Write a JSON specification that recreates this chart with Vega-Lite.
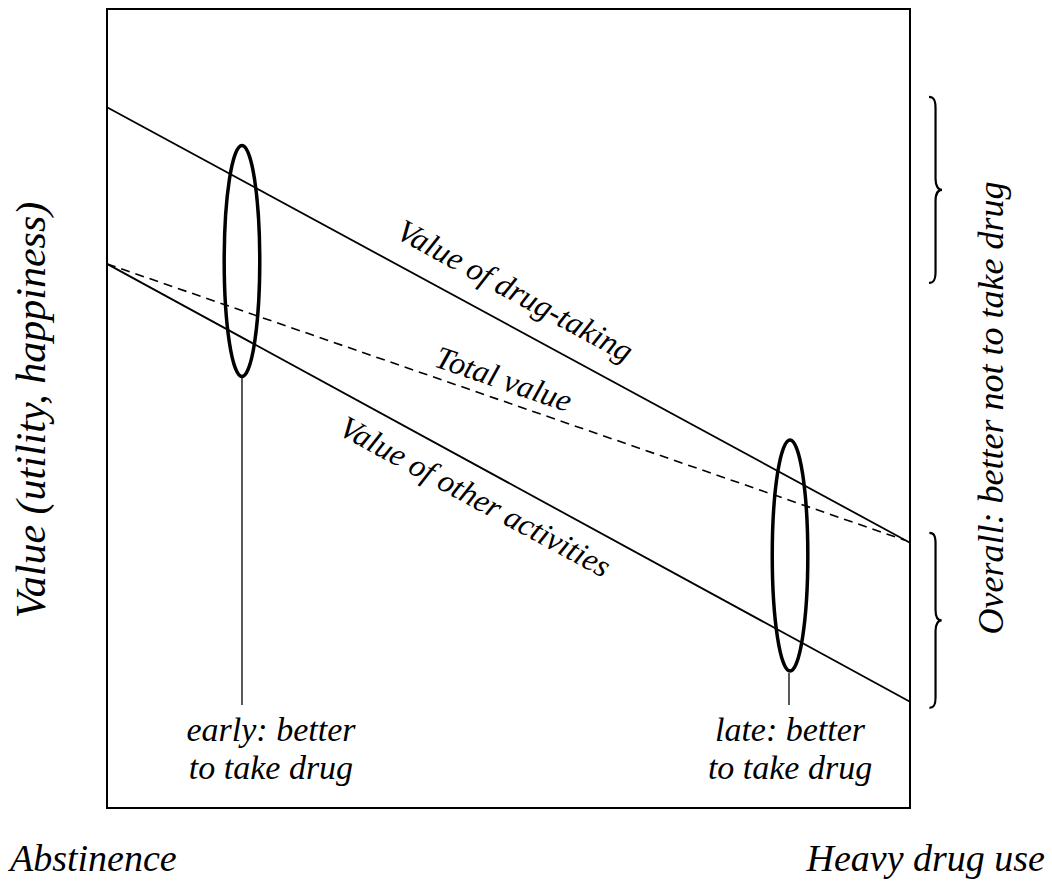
{
  "$schema": "https://vega.github.io/schema/vega-lite/v6.json",
  "width": 803,
  "height": 799,
  "autosize": "none",
  "padding": {"left": 107, "top": 9, "right": 142, "bottom": 84},
  "config": {"view": {"stroke": null}},
  "layer": [
    {
      "data": {"values": [{"x": 0, "y": 0, "x2": 100, "y2": 100}]},
      "mark": {"type": "rect", "filled": false, "stroke": "black", "strokeWidth": 2, "opacity": 1},
      "encoding": {
        "x": {"field": "x", "type": "quantitative", "scale": {"domain": [0, 100], "nice": false, "zero": false}, "axis": null},
        "y": {"field": "y", "type": "quantitative", "scale": {"domain": [0, 100], "nice": false, "zero": false}, "axis": null},
        "x2": {"field": "x2"},
        "y2": {"field": "y2"}
      }
    },
    {
      "data": {"values": [
        {"series": "Value of drug-taking", "x": 0, "y": 87.7},
        {"series": "Value of drug-taking", "x": 100, "y": 33.2},
        {"series": "Value of other activities", "x": 0, "y": 68.1},
        {"series": "Value of other activities", "x": 100, "y": 13.3}
      ]},
      "mark": {"type": "line", "color": "black", "strokeWidth": 1.8},
      "encoding": {
        "x": {"field": "x", "type": "quantitative"},
        "y": {"field": "y", "type": "quantitative"},
        "detail": {"field": "series", "type": "nominal"}
      }
    },
    {
      "data": {"values": [
        {"series": "Total value", "x": 0, "y": 68.1},
        {"series": "Total value", "x": 99.4, "y": 33.5}
      ]},
      "mark": {"type": "line", "color": "black", "strokeWidth": 1.6, "strokeDash": [9, 6]},
      "encoding": {
        "x": {"field": "x", "type": "quantitative"},
        "y": {"field": "y", "type": "quantitative"}
      }
    },
    {
      "data": {"values": [
        {"stage": "early", "x": 16.81, "y": 53.82, "y2": 12.89},
        {"stage": "late", "x": 84.93, "y": 16.9, "y2": 12.89}
      ]},
      "mark": {"type": "rule", "color": "#222", "strokeWidth": 1.5},
      "encoding": {
        "x": {"field": "x", "type": "quantitative"},
        "y": {"field": "y", "type": "quantitative"},
        "y2": {"field": "y2"}
      }
    },
    {
      "data": {"values": [
        {"stage": "early", "x": 16.81, "y": 68.46},
        {"stage": "late", "x": 85.06, "y": 31.6}
      ]},
      "mark": {
        "type": "point",
        "filled": false,
        "stroke": "black",
        "strokeWidth": 3.5,
        "opacity": 1,
        "size": 53361,
        "shape": "M0,-1C0.085,-1 0.154,-0.5523 0.154,0C0.154,0.5523 0.085,1 0,1C-0.085,1 -0.154,0.5523 -0.154,0C-0.154,-0.5523 -0.085,-1 0,-1Z"
      },
      "encoding": {
        "x": {"field": "x", "type": "quantitative"},
        "y": {"field": "y", "type": "quantitative"}
      }
    },
    {
      "data": {"values": [{"part": "upper", "x": 103.18, "y": 77.35}]},
      "mark": {
        "type": "point",
        "filled": false,
        "stroke": "black",
        "strokeWidth": 2.2,
        "opacity": 1,
        "size": 34596,
        "shape": "M-0.07,-1C-0.02,-1 0,-0.97 0,-0.88L0,-0.12C0,-0.04 0.03,0 0.07,0C0.03,0 0,0.04 0,0.12L0,0.88C0,0.97 -0.02,1 -0.07,1"
      },
      "encoding": {
        "x": {"field": "x", "type": "quantitative"},
        "y": {"field": "y", "type": "quantitative"}
      }
    },
    {
      "data": {"values": [{"part": "lower", "x": 103.18, "y": 23.47}]},
      "mark": {
        "type": "point",
        "filled": false,
        "stroke": "black",
        "strokeWidth": 2.2,
        "opacity": 1,
        "size": 30625,
        "shape": "M-0.07,-1C-0.02,-1 0,-0.97 0,-0.88L0,-0.12C0,-0.04 0.03,0 0.07,0C0.03,0 0,0.04 0,0.12L0,0.88C0,0.97 -0.02,1 -0.07,1"
      },
      "encoding": {
        "x": {"field": "x", "type": "quantitative"},
        "y": {"field": "y", "type": "quantitative"}
      }
    },
    {
      "data": {"values": [
        {"label": "Value of drug-taking", "x": 50.19, "y": 63.58},
        {"label": "Value of other activities", "x": 45.21, "y": 37.8}
      ]},
      "mark": {"type": "text", "font": "Liberation Serif", "fontStyle": "italic", "fontSize": 32, "angle": 28.5, "align": "center", "baseline": "alphabetic"},
      "encoding": {
        "x": {"field": "x", "type": "quantitative"},
        "y": {"field": "y", "type": "quantitative"},
        "text": {"field": "label", "type": "nominal"}
      }
    },
    {
      "data": {"values": [{"label": "Total value", "x": 48.94, "y": 52.44}]},
      "mark": {"type": "text", "font": "Liberation Serif", "fontStyle": "italic", "fontSize": 32, "angle": 19, "align": "center", "baseline": "alphabetic"},
      "encoding": {
        "x": {"field": "x", "type": "quantitative"},
        "y": {"field": "y", "type": "quantitative"},
        "text": {"field": "label", "type": "nominal"}
      }
    },
    {
      "data": {"values": [
        {"label": "early: better", "x": 20.42, "y": 8.39},
        {"label": "to take drug", "x": 20.42, "y": 3.63},
        {"label": "late: better", "x": 85.06, "y": 8.39},
        {"label": "to take drug", "x": 85.06, "y": 3.63}
      ]},
      "mark": {"type": "text", "font": "Liberation Serif", "fontStyle": "italic", "fontSize": 34, "align": "center", "baseline": "alphabetic"},
      "encoding": {
        "x": {"field": "x", "type": "quantitative"},
        "y": {"field": "y", "type": "quantitative"},
        "text": {"field": "label", "type": "nominal"}
      }
    },
    {
      "data": {"values": [{"label": "Abstinence", "x": -12.08, "y": -7.88}]},
      "mark": {"type": "text", "font": "Liberation Serif", "fontStyle": "italic", "fontSize": 38, "align": "left", "baseline": "alphabetic"},
      "encoding": {
        "x": {"field": "x", "type": "quantitative"},
        "y": {"field": "y", "type": "quantitative"},
        "text": {"field": "label", "type": "nominal"}
      }
    },
    {
      "data": {"values": [{"label": "Heavy drug use", "x": 116.81, "y": -7.88}]},
      "mark": {"type": "text", "font": "Liberation Serif", "fontStyle": "italic", "fontSize": 38, "align": "right", "baseline": "alphabetic"},
      "encoding": {
        "x": {"field": "x", "type": "quantitative"},
        "y": {"field": "y", "type": "quantitative"},
        "text": {"field": "label", "type": "nominal"}
      }
    },
    {
      "data": {"values": [{"label": "Value (utility, happiness)", "x": -7.72, "y": 49.81}]},
      "mark": {"type": "text", "font": "serif", "fontStyle": "italic", "fontSize": 42, "angle": 270, "align": "center", "baseline": "alphabetic"},
      "encoding": {
        "x": {"field": "x", "type": "quantitative"},
        "y": {"field": "y", "type": "quantitative"},
        "text": {"field": "label", "type": "nominal"}
      }
    },
    {
      "data": {"values": [{"label": "Overall: better not to take drug", "x": 111.58, "y": 50.06}]},
      "mark": {"type": "text", "font": "Times New Roman", "fontStyle": "italic", "fontSize": 36, "angle": 270, "align": "center", "baseline": "alphabetic"},
      "encoding": {
        "x": {"field": "x", "type": "quantitative"},
        "y": {"field": "y", "type": "quantitative"},
        "text": {"field": "label", "type": "nominal"}
      }
    }
  ]
}
